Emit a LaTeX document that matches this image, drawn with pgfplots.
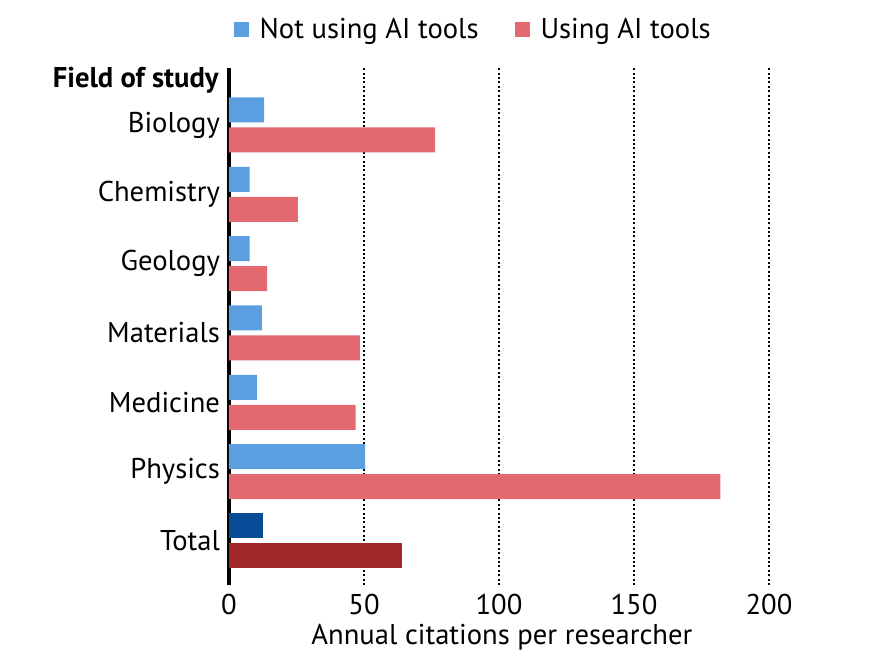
\documentclass[border=0pt]{standalone}
\usepackage{pgfplots}
\pgfplotsset{compat=1.18}
\usepackage{fontspec}
\setmainfont{PT Sans}
\definecolor{lblue}{RGB}{91,159,224}
\definecolor{lred}{RGB}{228,104,111}
\definecolor{dblue}{RGB}{8,76,152}
\definecolor{dred}{RGB}{160,40,40}
\begin{document}
\begin{tikzpicture}
\useasboundingbox (-114.5pt,-36pt) rectangle (326.5pt,292.5pt);
\begin{axis}[
  at={(0pt,0pt)}, anchor=south west,
  scale only axis,
  width=276.75pt, height=258.5pt,
  xbar, bar width=12.5pt,
  xmin=0, xmax=205,
  ymin=-0.635, ymax=6.822,
  xtick={0,50,100,150,200},
  ytick={0,1,2,3,4,5,6},
  yticklabels={Total,Physics,Medicine,Materials,Geology,Chemistry,Biology},
  major tick length=0pt,
  axis x line*=bottom,
  axis y line*=left,
  x axis line style={draw=none},
  y axis line style={line width=1.6pt, black},
  xmajorgrids,
  grid style={black, line width=1pt, dash pattern=on 1pt off 1.2pt},
  /pgf/number format/assume math mode=true,
  tick label style={font=\fontsize{14.3}{16}\selectfont, black},
  yticklabel style={xshift=-1pt},
  xticklabel style={yshift=-1pt},
  xlabel={Annual citations per researcher},
  xlabel style={font=\fontsize{14.3}{16}\selectfont, at={(axis description cs:0.493,-0.1006)}, anchor=center},
  legend style={draw=none, at={(0.443,1.0735)}, anchor=center,
    legend columns=2, font=\fontsize{14.3}{16}\selectfont,
    /tikz/every even column/.append style={column sep=16pt}},
  legend image code/.code={\fill[#1] (0pt,-3.5pt) rectangle (7.5pt,4pt);},
  clip=false,
]
\addplot[fill=lblue, draw=none, bar shift=7.5pt] coordinates {
  (13.0,6) (7.6,5) (7.6,4) (12.2,3) (10.3,2) (50.4,1)};
\addlegendentry{\hspace{3.5pt}Not using AI tools}
\addplot[fill=lred, draw=none, bar shift=-7.5pt] coordinates {
  (76.3,6) (25.5,5) (14.1,4) (48.5,3) (46.9,2) (182.0,1)};
\addlegendentry{\hspace{3.5pt}Using AI tools}
\addplot[fill=dblue, draw=none, bar shift=7.5pt, forget plot] coordinates {(12.6,0)};
\addplot[fill=dred, draw=none, bar shift=-7.5pt, forget plot] coordinates {(64.0,0)};
\node[anchor=east, inner sep=0pt, font=\fontsize{14.3}{16}\selectfont\bfseries] at ([xshift=-5pt]rel axis cs:0,0.977) {Field of study};
\end{axis}
\end{tikzpicture}
\end{document}
